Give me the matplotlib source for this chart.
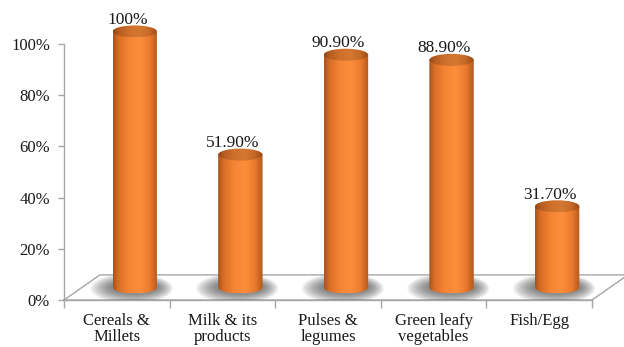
import numpy as np
import matplotlib
matplotlib.use("Agg")
import matplotlib.pyplot as plt
from matplotlib.patches import Ellipse, Polygon

# data
categories = ["Cereals &\nMillets", "Milk & its\nproducts", "Pulses &\nlegumes",
              "Green leafy\nvegetables", "Fish/Egg"]
values = [100.0, 51.9, 90.9, 88.9, 31.7]
value_labels = ["100%", "51.90%", "90.90%", "88.90%", "31.70%"]
y_ticks = [0, 20, 40, 60, 80, 100]

# 3D look settings (data units)
DEPTH_X, DEPTH_Y = 0.34, 9.8      # floor depth offset
CYL_W = 0.42                      # cylinder diameter
CYL_B = 2.35                      # half height of the end ellipses
GRID = "#a6a6a6"
FONT = "Liberation Serif"

plt.rcParams["font.family"] = [FONT, "DejaVu Serif"]

fig = plt.figure(figsize=(6.24, 3.47), dpi=100)
ax = fig.add_axes([64 / 624, 47 / 347, 560 / 624, 294.4 / 347])

# horizontal shading across the cylinder body
stops_t = [0.0, 0.12, 0.35, 0.6, 0.82, 1.0]
stops_c = np.array([[0.66, 0.32, 0.10], [0.85, 0.43, 0.15], [0.96, 0.52, 0.20],
                    [0.99, 0.56, 0.23], [0.92, 0.48, 0.18], [0.70, 0.35, 0.11]])
t = np.linspace(0, 1, 128)
grad = np.stack([np.interp(t, stops_t, stops_c[:, k]) for k in range(3)], axis=1)
top_grad = np.clip(grad * 0.84, 0, 1)

# floor
fx = [-0.5, 4.5, 4.5 + DEPTH_X, -0.5 + DEPTH_X, -0.5]
fy = [0, 0, DEPTH_Y, DEPTH_Y, 0]
ax.fill(fx, fy, color="white", zorder=1, clip_on=False)
ax.plot(fx, fy, color=GRID, lw=1.0, zorder=2, clip_on=False)

for i, v in enumerate(values):
    xc = i + DEPTH_X / 2
    base = DEPTH_Y / 2
    top = base + v
    x0, x1 = xc - CYL_W / 2, xc + CYL_W / 2

    # soft shadow on the floor
    for k in range(10):
        s = 1 - k / 10
        ax.add_patch(Ellipse((xc - 0.03 * s, base - 0.4 * s), CYL_W * (1.05 + 0.8 * s),
                             2 * CYL_B * (1.0 + 1.5 * s), color="#333333",
                             alpha=0.075, lw=0, zorder=3))

    # body: rectangle with rounded bottom
    ang = np.linspace(np.pi, 2 * np.pi, 60)
    verts = [(x0, top), (x0, base)]
    verts += list(zip(xc + CYL_W / 2 * np.cos(ang), base + CYL_B * np.sin(ang)))
    verts += [(x1, top)]
    body = Polygon(verts, closed=True, transform=ax.transData)
    im = ax.imshow(grad[np.newaxis], extent=(x0, x1, base - CYL_B, top),
                   aspect="auto", interpolation="bilinear", zorder=4)
    im.set_clip_path(body)

    # top cap
    cap = Ellipse((xc, top), CYL_W, 2 * CYL_B, transform=ax.transData)
    im2 = ax.imshow(top_grad[np.newaxis], extent=(x0, x1, top - CYL_B, top + CYL_B),
                    aspect="auto", interpolation="bilinear", zorder=5)
    im2.set_clip_path(cap)

    ax.text(i + 0.1, top + 4.5, value_labels[i], ha="center", va="center",
            fontsize=12.5, color="#1a1a1a", zorder=6)

ax.set_xlim(-0.5, -0.5 + 560 / 105.6)
ax.set_ylim(0, 115)

for side in ["top", "right"]:
    ax.spines[side].set_visible(False)
ax.spines["left"].set_bounds(0, 100)
ax.spines["bottom"].set_bounds(-0.5, 4.5)
for side in ["left", "bottom"]:
    ax.spines[side].set_color(GRID)
    ax.spines[side].set_linewidth(1.0)

ax.set_yticks(y_ticks)
ax.set_yticklabels([f"{y}%" for y in y_ticks], fontsize=12, color="#1a1a1a")
ax.tick_params(axis="y", length=4, width=1, color=GRID, pad=6)

ax.set_xticks(range(len(categories)))
ax.set_xticklabels(categories, fontsize=12, color="#1a1a1a", linespacing=1.0)
ax.set_xticks(np.arange(-0.5, len(categories), 1.0), minor=True)
ax.tick_params(axis="x", which="major", length=0, pad=9.5)
ax.tick_params(axis="x", which="minor", length=6, width=1, color=GRID)

fig.savefig("out.png", dpi=100)
